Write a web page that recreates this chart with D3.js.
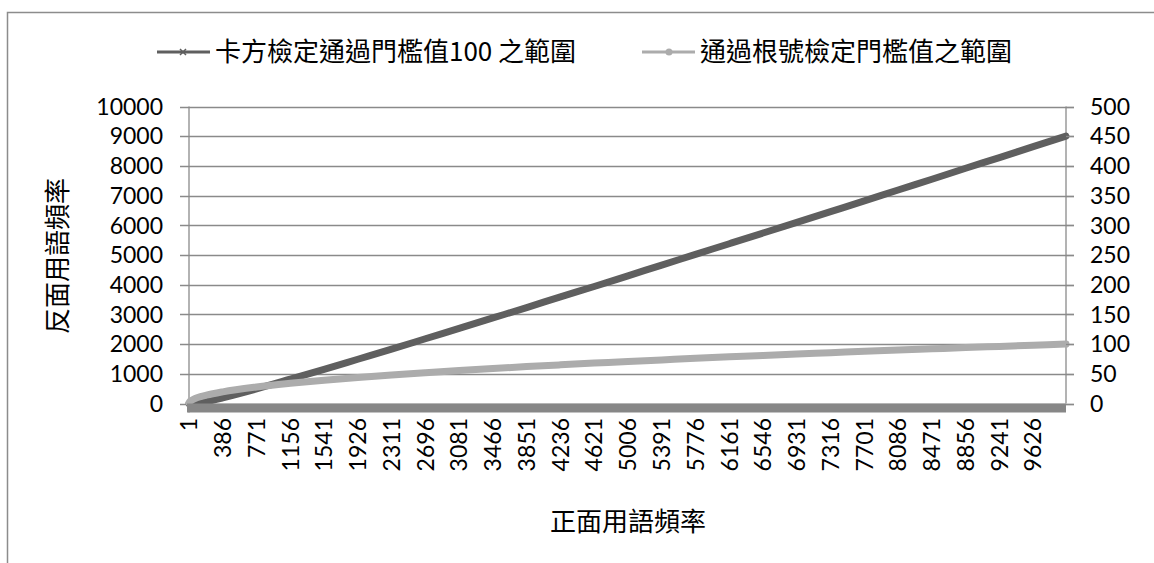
<!DOCTYPE html>
<html>
<head>
<meta charset="utf-8">
<script src="https://cdn.jsdelivr.net/npm/d3@7"></script>
<style>
	html, body { margin: 0; padding: 0; background: #fff; }
	svg { display: block; }
	.num { font-family: Lato, "Open Sans", sans-serif; fill: #000; }
	.cjk { font-family: "Noto Sans CJK TC", "Noto Sans CJK SC", sans-serif; fill: #000; }
</style>
</head>
<body>
<div id="chart"></div>
<script>
// series names (legend)
const seriesNames = ['卡方檢定通過門檻值100 之範圍', '通過根號檢定門檻值之範圍'];
// 正面用語頻率 sample points
const categories = [1, 10, 25, 50, 100, 200, 386, 771, 1156, 1541, 1926, 2311, 2696, 3081, 3466, 3851, 4236, 4621, 5006, 5391, 5776, 6161, 6546, 6931, 7316, 7701, 8086, 8471, 8856, 9241, 9626, 10000];
// left axis series
const chiSquareValues = [0, 0, 0, 0, 0, 60, 190, 490, 820, 1150, 1490, 1830, 2180, 2530, 2880, 3230, 3590, 3940, 4300, 4660, 5020, 5380, 5740, 6100, 6460, 6820, 7190, 7550, 7920, 8280, 8650, 9000];
// right axis series
const sqrtValues = [1, 3.2, 5, 7, 10, 14, 19.6, 27.8, 34, 39.3, 43.9, 48.1, 51.9, 55.5, 58.9, 62.1, 65.1, 68, 70.8, 73.4, 76, 78.5, 80.9, 83.3, 85.5, 87.8, 89.9, 92, 94.1, 96.1, 98.1, 100];
// category axis labels
const xTickLabels = [1, 386, 771, 1156, 1541, 1926, 2311, 2696, 3081, 3466, 3851, 4236, 4621, 5006, 5391, 5776, 6161, 6546, 6931, 7316, 7701, 8086, 8471, 8856, 9241, 9626];
const leftTicks = [0, 1000, 2000, 3000, 4000, 5000, 6000, 7000, 8000, 9000, 10000];
const rightTicks = [0, 50, 100, 150, 200, 250, 300, 350, 400, 450, 500];

const W = 1154, H = 563;
const plot = { left: 189, right: 1066, top: 106.5, bottom: 403.5 };
const colors = { dark: '#5f5f5f', light: '#acacac', grid: '#8a8a8a', band: '#878787' };

const svg = d3.select('#chart')
	.append('svg')
	.attr('width', W)
	.attr('height', H)
	.attr('viewBox', `0 0 ${W} ${H}`);

// chart frame (cropped at right / bottom)
svg.append('path')
	.attr('d', `M7.5,${H} V12.5 H${W}`)
	.attr('fill', 'none')
	.attr('stroke', '#8c8c8c')
	.attr('stroke-width', 1.5);

const x = d3.scaleLinear().domain([1, 10000]).range([plot.left, plot.right]);
const yL = d3.scaleLinear().domain([0, 10000]).range([plot.bottom, plot.top]);
const yR = d3.scaleLinear().domain([0, 500]).range([plot.bottom, plot.top]);

// gridlines + left ticks
svg.append('g')
	.selectAll('line')
	.data(leftTicks)
	.join('line')
	.attr('x1', plot.left - 9)
	.attr('x2', plot.right + 8)
	.attr('y1', d => Math.round(yL(d)) + 0.5)
	.attr('y2', d => Math.round(yL(d)) + 0.5)
	.attr('stroke', colors.grid)
	.attr('stroke-width', 1.3);

// axis lines
svg.append('line')
	.attr('x1', plot.left).attr('x2', plot.left)
	.attr('y1', plot.top).attr('y2', plot.bottom + 9)
	.attr('stroke', colors.grid).attr('stroke-width', 1.3);
svg.append('line')
	.attr('x1', plot.right).attr('x2', plot.right)
	.attr('y1', plot.top).attr('y2', plot.bottom)
	.attr('stroke', colors.grid).attr('stroke-width', 1.3);

// left labels
svg.append('g')
	.selectAll('text')
	.data(leftTicks)
	.join('text')
	.classed('num', true)
	.attr('x', 163)
	.attr('y', d => yL(d))
	.attr('dy', '0.36em')
	.attr('text-anchor', 'end')
	.style('font-size', '23px')
	.text(d => d);

// right labels
svg.append('g')
	.selectAll('text')
	.data(rightTicks)
	.join('text')
	.classed('num', true)
	.attr('x', 1090)
	.attr('y', d => yR(d))
	.attr('dy', '0.36em')
	.style('font-size', '23px')
	.text(d => d);

const pts = categories.map((c, i) => ({ c, a: chiSquareValues[i], b: sqrtValues[i] }));

const lineA = d3.line().x(d => x(d.c)).y(d => yL(d.a)).curve(d3.curveMonotoneX);
const lineB = d3.line().x(d => x(d.c)).y(d => yR(d.b)).curve(d3.curveMonotoneX);

svg.append('path')
	.datum(pts)
	.attr('d', lineA)
	.attr('fill', 'none')
	.attr('stroke', colors.dark)
	.attr('stroke-width', 7)
	.attr('stroke-linecap', 'round')
	.attr('stroke-linejoin', 'round');

svg.append('path')
	.datum(pts)
	.attr('d', lineB)
	.attr('fill', 'none')
	.attr('stroke', colors.light)
	.attr('stroke-width', 7)
	.attr('stroke-linecap', 'round')
	.attr('stroke-linejoin', 'round');

// dense category tick marks (one per category) merge into a band
svg.append('rect')
	.attr('x', x(1) - 2)
	.attr('y', plot.bottom)
	.attr('width', x(10000) - x(1) + 2)
	.attr('height', 9)
	.attr('fill', colors.band);

// right ticks drawn after band
svg.append('g')
	.selectAll('line')
	.data(rightTicks)
	.join('line')
	.attr('x1', plot.right)
	.attr('x2', plot.right + 8)
	.attr('y1', d => Math.round(yR(d)) + 0.5)
	.attr('y2', d => Math.round(yR(d)) + 0.5)
	.attr('stroke', colors.grid)
	.attr('stroke-width', 1.3);

// category labels, rotated
svg.append('g')
	.selectAll('text')
	.data(xTickLabels)
	.join('text')
	.classed('num', true)
	.attr('transform', d => `translate(${x(d)},418) rotate(-90)`)
	.attr('dy', '0.36em')
	.attr('text-anchor', 'end')
	.style('font-size', '23px')
	.text(d => d);

// axis titles
svg.append('text')
	.classed('cjk', true)
	.attr('x', 628)
	.attr('y', 522)
	.attr('dy', '0.36em')
	.attr('text-anchor', 'middle')
	.style('font-size', '26px')
	.text('正面用語頻率');

svg.append('text')
	.classed('cjk', true)
	.attr('transform', 'translate(58,256) rotate(-90)')
	.attr('dy', '0.36em')
	.attr('text-anchor', 'middle')
	.style('font-size', '26px')
	.text('反面用語頻率');

// legend
const legend = [
	{ name: seriesNames[0], color: colors.dark, x0: 157, marker: 'x' },
	{ name: seriesNames[1], color: colors.light, x0: 642, marker: 'o' }
];
const lg = svg.append('g')
	.selectAll('g')
	.data(legend)
	.join('g')
	.attr('transform', d => `translate(${d.x0},52)`);

lg.append('line')
	.attr('x1', 0).attr('x2', 53)
	.attr('stroke', d => d.color)
	.attr('stroke-width', 3);

lg.filter(d => d.marker === 'o')
	.append('circle')
	.attr('cx', 27).attr('r', 3.5)
	.attr('fill', d => d.color);

lg.filter(d => d.marker === 'x')
	.append('path')
	.attr('d', 'M23,-3L29,3M23,3L29,-3')
	.attr('stroke', d => d.color)
	.attr('stroke-width', 1.5);

lg.append('text')
	.classed('cjk', true)
	.attr('x', 58)
	.attr('dy', '0.36em')
	.style('font-size', '26px')
	.text(d => d.name);
</script>
</body>
</html>
